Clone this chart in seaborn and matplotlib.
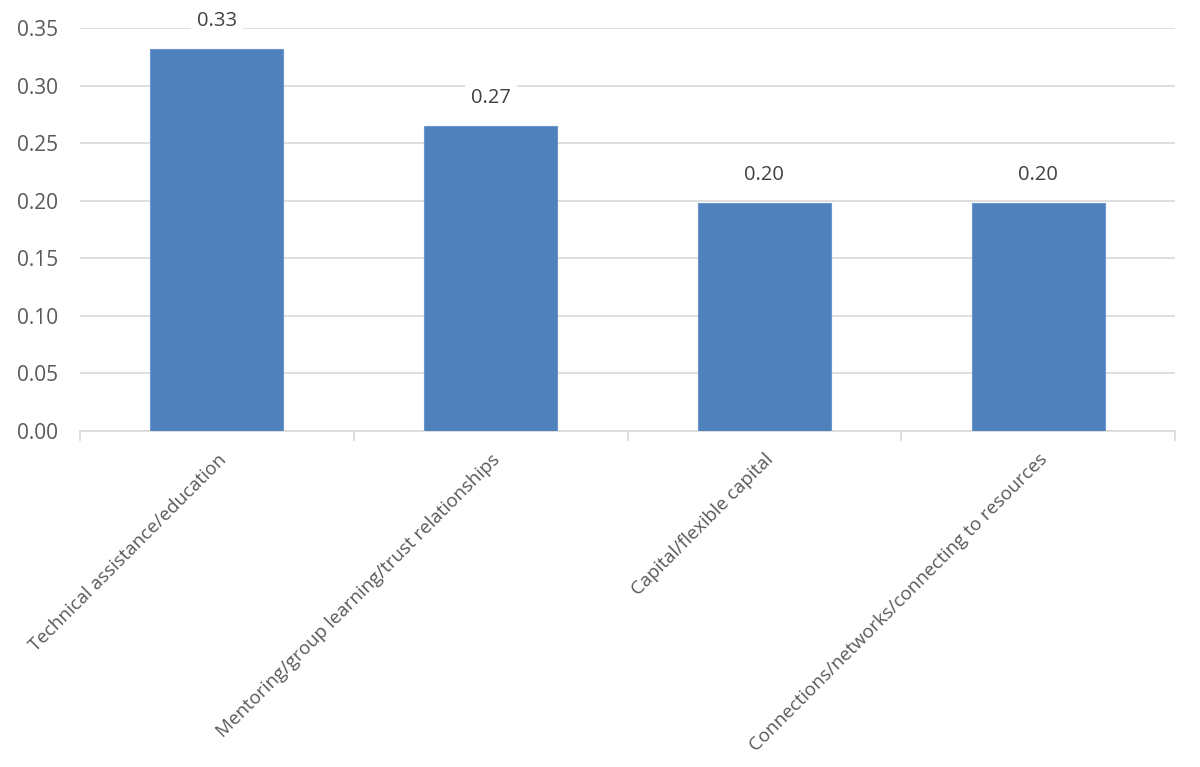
import matplotlib
matplotlib.use("Agg")
import matplotlib.pyplot as plt
import seaborn as sns
import pandas as pd

categories = ["Technical assistance/education",
              "Mentoring/group learning/trust relationships",
              "Capital/flexible capital",
              "Connections/networks/connecting to resources"]
values = [0.332, 0.265, 0.198, 0.198]
labels = ["0.33", "0.27", "0.20", "0.20"]
yticks = [0.00, 0.05, 0.10, 0.15, 0.20, 0.25, 0.30, 0.35]

sns.set_theme(style="white")
plt.rcParams['font.family'] = ['Open Sans', 'DejaVu Sans']

df = pd.DataFrame({"cat": categories, "val": values})
fig = plt.figure(figsize=(12, 7.67), dpi=100)
ax = fig.add_axes([80/1200, 1-431/767, 1095/1200, 403/767])
sns.barplot(data=df, x="cat", y="val", color="#4F81BD", width=0.485,
            saturation=1, ax=ax, edgecolor="#6A96CC", linewidth=0.8, zorder=3)

ax.set_ylim(0, 0.35)
ax.set_xlim(-0.5, len(categories) - 0.5)
ax.set_yticks(yticks)
ax.set_yticklabels([f"{t:.2f}" for t in yticks], fontsize=15, color="#595959")
ax.yaxis.grid(True, color="#D9D9D9", linewidth=1.2, zorder=0)
ax.set_axisbelow(True)
for s in ["top", "right", "left"]:
    ax.spines[s].set_visible(False)
ax.spines["bottom"].set_color("#D9D9D9")
ax.spines["bottom"].set_linewidth(1.2)
ax.tick_params(axis="y", length=0, pad=16)
ax.set_xticks(range(len(categories)))
ax.set_xticklabels(categories, rotation=45, ha="right", rotation_mode="anchor",
                   fontsize=13.5, color="#595959")
ax.tick_params(axis="x", which="major", length=0, pad=14)
# category boundary ticks
ax.set_xticks([i - 0.5 for i in range(len(categories) + 1)], minor=True)
ax.tick_params(axis="x", which="minor", bottom=True, length=7, color="#D9D9D9",
               width=1.2, direction="out")
ax.set_xlabel("")
ax.set_ylabel("")

for i, (v, lab) in enumerate(zip(values, labels)):
    ax.annotate(lab, (i, v), xytext=(0, 13), textcoords="offset points",
                ha="center", va="bottom", fontsize=14.5, color="#404040",
                bbox=dict(boxstyle="square,pad=0.3", fc="white", ec="none"), zorder=5)

fig.savefig("out.png", dpi=100)
